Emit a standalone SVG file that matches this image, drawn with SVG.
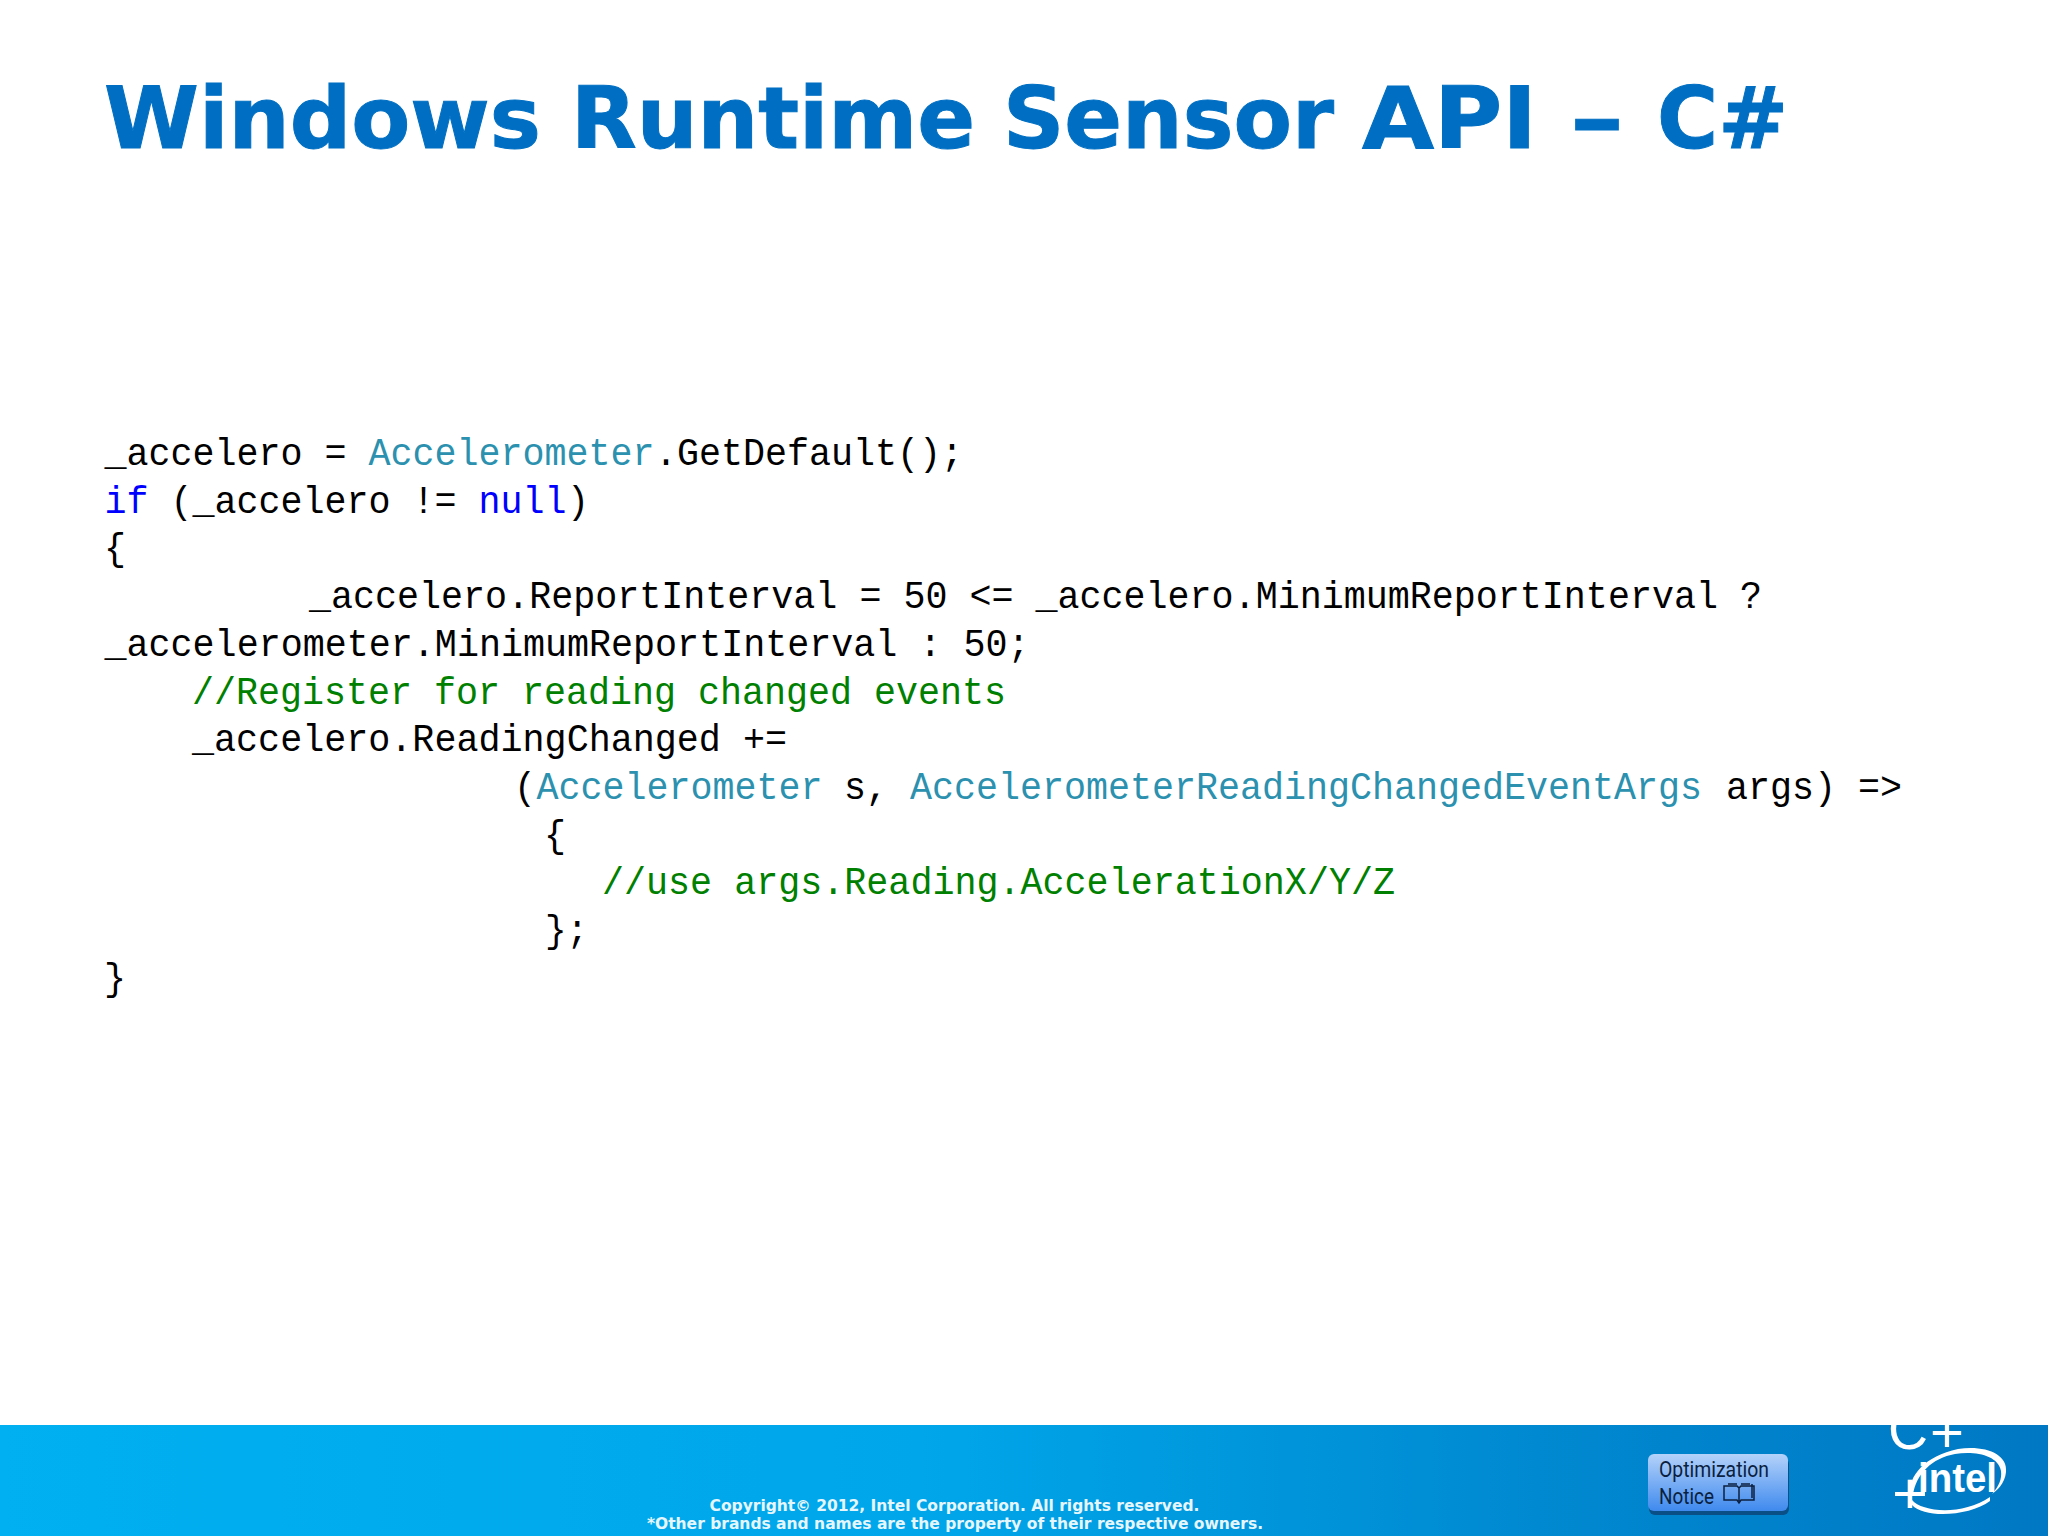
<svg xmlns="http://www.w3.org/2000/svg" width="2048" height="1536" viewBox="0 0 2048 1536">
<style>
.c{font-family:"Liberation Mono","DejaVu Sans Mono",monospace;font-size:39px;fill:#000}
.k{fill:#0000ff}.t{fill:#2b91af}.g{fill:#008000}
.f{font-family:"DejaVu Sans",Verdana,sans-serif;font-weight:700;font-size:15.5px;fill:#e6f6fd;text-anchor:middle}
.w{font-family:"Liberation Sans",Arial,sans-serif;fill:#fff}
.b{font-family:"Roboto","Liberation Sans",sans-serif;font-size:22px;fill:#0b1f3f}
</style>
<defs>
<linearGradient id="bar" x1="0" x2="1" y1="0" y2="0"><stop offset="0" stop-color="#00b0f0"/><stop offset=".45" stop-color="#00a6ea"/><stop offset=".75" stop-color="#0089d0"/><stop offset="1" stop-color="#0078c4"/></linearGradient>
<linearGradient id="btn" x1="0" x2="0" y1="0" y2="1"><stop offset="0" stop-color="#b4d2fa"/><stop offset="1" stop-color="#3f8aee"/></linearGradient>
<clipPath id="barclip"><rect x="0" y="1425" width="2048" height="111"/></clipPath>
</defs>
<rect width="2048" height="1536" fill="#fff"/>
<text id="title" y="148" font-family="'DejaVu Sans',Verdana,sans-serif" font-weight="700" font-size="85" fill="#006fc3" stroke="#006fc3" stroke-width="1"><tspan x="104" textLength="437" lengthAdjust="spacingAndGlyphs">Windows</tspan><tspan x="571" textLength="404" lengthAdjust="spacingAndGlyphs">Runtime</tspan><tspan x="1003" textLength="331" lengthAdjust="spacingAndGlyphs">Sensor</tspan><tspan x="1362" textLength="175" lengthAdjust="spacingAndGlyphs">API</tspan><tspan x="1570" textLength="54" lengthAdjust="spacingAndGlyphs">–</tspan><tspan x="1657" textLength="131" lengthAdjust="spacingAndGlyphs">C#</tspan></text>
<g id="code">
<text class="c" y="465"><tspan x="104.500" textLength="242" lengthAdjust="spacingAndGlyphs">_accelero =</tspan><tspan class="t" x="368.500" textLength="286" lengthAdjust="spacingAndGlyphs">Accelerometer</tspan><tspan x="655" textLength="308" lengthAdjust="spacingAndGlyphs">.GetDefault();</tspan></text>
<text class="c" y="512.600"><tspan class="k" x="104.500" textLength="44" lengthAdjust="spacingAndGlyphs">if</tspan><tspan x="170.500" textLength="286" lengthAdjust="spacingAndGlyphs">(_accelero !=</tspan><tspan class="k" x="478.500" textLength="88" lengthAdjust="spacingAndGlyphs">null</tspan><tspan x="567" textLength="22" lengthAdjust="spacingAndGlyphs">)</tspan></text>
<text class="c" x="104" y="560.200" textLength="22" lengthAdjust="spacingAndGlyphs">{</text>
<text class="c" x="309" y="608.300" textLength="1453" lengthAdjust="spacingAndGlyphs">_accelero.ReportInterval = 50 &lt;= _accelero.MinimumReportInterval ?</text>
<text class="c" x="104.500" y="656" textLength="925" lengthAdjust="spacingAndGlyphs">_accelerometer.MinimumReportInterval : 50;</text>
<text class="c g" x="192" y="703.500" textLength="814" lengthAdjust="spacingAndGlyphs">//Register for reading changed events</text>
<text class="c" x="192" y="751.200" textLength="595" lengthAdjust="spacingAndGlyphs">_accelero.ReadingChanged +=</text>
<text class="c" y="799"><tspan x="514" textLength="22" lengthAdjust="spacingAndGlyphs">(</tspan><tspan class="t" x="536.500" textLength="286" lengthAdjust="spacingAndGlyphs">Accelerometer</tspan><tspan x="844" textLength="44" lengthAdjust="spacingAndGlyphs">s,</tspan><tspan class="t" x="910" textLength="792" lengthAdjust="spacingAndGlyphs">AccelerometerReadingChangedEventArgs</tspan><tspan x="1726" textLength="176" lengthAdjust="spacingAndGlyphs">args) =&gt;</tspan></text>
<text class="c" x="544" y="846.600" textLength="22" lengthAdjust="spacingAndGlyphs">{</text>
<text class="c g" x="602" y="894.300" textLength="793" lengthAdjust="spacingAndGlyphs">//use args.Reading.AccelerationX/Y/Z</text>
<text class="c" x="545" y="942" textLength="43" lengthAdjust="spacingAndGlyphs">};</text>
<text class="c" x="104" y="989.600" textLength="22" lengthAdjust="spacingAndGlyphs">}</text>
</g>
<g id="footer">
<rect x="0" y="1425" width="2048" height="111" fill="url(#bar)"/>
<text class="f" x="954.500" y="1510.500">Copyright© 2012, Intel Corporation. All rights reserved.</text>
<text class="f" x="955" y="1529">*Other brands and names are the property of their respective owners.</text>
</g>
<g id="optimization-notice">
<rect x="1649" y="1458" width="140" height="57" rx="6" fill="#0a4f86"/>
<rect x="1648" y="1454" width="140" height="57" rx="6" fill="url(#btn)"/>
<text class="b" x="1659" y="1477" textLength="110" lengthAdjust="spacingAndGlyphs">Optimization</text>
<text class="b" x="1659" y="1504" textLength="55" lengthAdjust="spacingAndGlyphs">Notice</text>
<path transform="translate(-3 1)" d="M1727 1485h13l2 2 2-2h13v14h-13l-2 3-2-3h-13zM1742 1487v13M1731 1483h9M1744 1483h9M1755 1483v14" fill="none" stroke="#0b1f3f" stroke-width="1.500"/>
</g>
<g id="intel-logo" clip-path="url(#barclip)">
<text class="w" y="1449" font-size="58"><tspan x="1888" textLength="40" lengthAdjust="spacingAndGlyphs">C</tspan><tspan x="1930" y="1452" textLength="34" lengthAdjust="spacingAndGlyphs">+</tspan></text>
<text class="w" x="1892" y="1513" font-size="58" textLength="36" lengthAdjust="spacingAndGlyphs">+</text>
<text x="1918" y="1492" font-family="'Liberation Sans',Arial,sans-serif" font-weight="700" font-size="40" fill="#fff" textLength="79" lengthAdjust="spacingAndGlyphs">intel</text>
<path d="M1910 1495C1908 1476 1925 1456 1958 1449C1985 1445 2008 1454 2006 1472C2005 1484 1996 1491 1992 1494C1999 1486 2002 1479 2001 1471C1998 1455 1975 1451 1955 1454C1932 1458 1916 1474 1913 1495ZM1912 1500C1922 1512 1962 1516 1990 1497L1990 1501C1970 1516 1925 1519 1912 1505Z" fill="#fff"/>
</g>
</svg>
